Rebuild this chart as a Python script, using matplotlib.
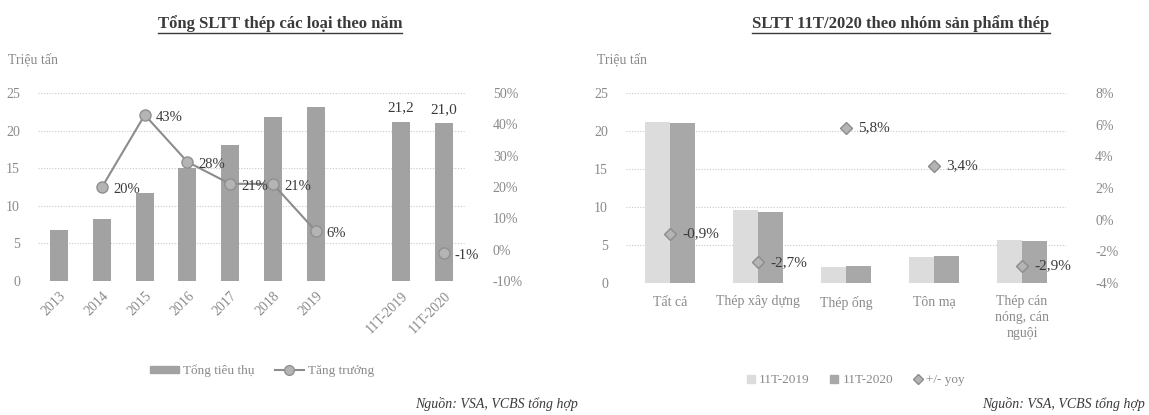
import matplotlib
matplotlib.use("Agg")
import matplotlib.pyplot as plt
import numpy as np
from matplotlib.lines import Line2D
from matplotlib.patches import Patch
from matplotlib.ticker import FuncFormatter, MultipleLocator

plt.rcParams["font.family"] = ["Liberation Serif", "DejaVu Serif"]

# --- left chart: total consumption by year ---
years = ["2013", "2014", "2015", "2016", "2017", "2018", "2019", "11T-2019", "11T-2020"]
year_pos = [0, 1, 2, 3, 4, 5, 6, 8, 9]  # gap before the 11-month pair
consumption = [6.8, 8.2, 11.7, 15.0, 18.1, 21.8, 23.1, 21.2, 21.0]
growth = [np.nan, 20, 43, 28, 21, 21, 6, np.nan, -1]
bar_labels = ["", "", "", "", "", "", "", "21,2", "21,0"]

# --- right chart: 11M/2020 by product group ---
groups = ["Tất cả", "Thép xây dựng", "Thép ống", "Tôn mạ", "Thép cán\nnóng, cán\nnguội"]
vol_2019 = [21.2, 9.6, 2.1, 3.45, 5.7]
vol_2020 = [21.0, 9.35, 2.22, 3.57, 5.53]
yoy = [-0.9, -2.7, 5.8, 3.4, -2.9]

TICK = "#8a8a8a"
DARK = "#3a3a3a"
GRID = "#c8c8c8"
W, H = 1149, 415


def vn(v, dec=1):
    return f"{v:.{dec}f}".replace(".", ",")


def clean(ax):
    for s in ax.spines.values():
        s.set_visible(False)
    ax.tick_params(length=0, colors=TICK, labelsize=10)


def underline(fig, txt):
    fig.canvas.draw()
    bb = txt.get_window_extent()
    y = bb.y0 - 1
    fig.add_artist(Line2D([bb.x0 / W, bb.x1 / W], [y / H, y / H],
                          transform=fig.transFigure, color=DARK, lw=1.0))


fig = plt.figure(figsize=(W / 100, H / 100), dpi=100)

# ---------------- left ----------------
ax = fig.add_axes([38 / W, 1 - 281 / H, 427 / W, 188 / H])
clean(ax)
ax.bar(year_pos, consumption, width=0.42, color="#a2a2a2", zorder=2)
ax.set_ylim(0, 25)
ax.set_xlim(-0.5, 9.5)
ax.yaxis.set_major_locator(MultipleLocator(5))
ax.grid(axis="y", color=GRID, ls=(0, (1, 1.5)), lw=0.8, zorder=0)
ax.set_xticks(year_pos)
ax.set_xticklabels(years, rotation=45, ha="right", rotation_mode="anchor")
ax.tick_params(axis="y", pad=13)
ax.tick_params(axis="x", pad=6)
for x, v, lab in zip(year_pos, consumption, bar_labels):
    if lab:
        ax.annotate(lab, (x, v), xytext=(0, 5), textcoords="offset points",
                    ha="center", va="bottom", fontsize=11, color=DARK)

ax2 = ax.twinx()
clean(ax2)
ax2.set_ylim(-10, 50)
ax2.yaxis.set_major_locator(MultipleLocator(10))
ax2.yaxis.set_major_formatter(FuncFormatter(lambda v, _: f"{v:.0f}%"))
ax2.tick_params(axis="y", pad=20)
ax2.plot(year_pos, growth, color="#8c8c8c", lw=1.5, marker="o", ms=8,
         mfc="#b4b4b4", mec="#909090", zorder=3)
for x, g in zip(year_pos, growth):
    if not np.isnan(g):
        ax2.annotate(f"{g:.0f}%", (x, g), xytext=(8, -2), textcoords="offset points",
                     ha="left", va="center", fontsize=10.5, color=DARK)

fig.text(8 / W, 1 - 60 / H, "Triệu tấn", fontsize=10, color=TICK, va="center")
t1 = fig.text(280 / W, 1 - 24 / H, "Tổng SLTT thép các loại theo năm", fontsize=12,
              fontweight="bold", color=DARK, ha="center", va="center")
fig.legend(handles=[Patch(color="#a2a2a2", label="Tổng tiêu thụ"),
                    Line2D([], [], color="#8c8c8c", lw=1.5, marker="o", ms=7,
                           mfc="#b4b4b4", mec="#909090", label="Tăng trưởng")],
           loc="center", bbox_to_anchor=(262 / W, 1 - 371 / H), ncol=2, frameon=False,
           fontsize=9.5, labelcolor=TICK, handlelength=2.2, handleheight=0.5,
           columnspacing=1.5, handletextpad=0.3)
fig.text(578 / W, 1 - 404 / H, "Nguồn: VSA, VCBS tổng hợp", fontsize=10, style="italic",
         color=DARK, ha="right", va="center")

# ---------------- right ----------------
bx = fig.add_axes([626 / W, 1 - 283 / H, 440 / W, 190 / H])
clean(bx)
pos = np.arange(len(groups))
bw = 0.285
bx.bar(pos - bw / 2, vol_2019, width=bw, color="#dcdcdc", zorder=2)
bx.bar(pos + bw / 2, vol_2020, width=bw, color="#a8a8a8", zorder=2)
bx.set_ylim(0, 25)
bx.set_xlim(-0.5, len(groups) - 0.5)
bx.yaxis.set_major_locator(MultipleLocator(5))
bx.grid(axis="y", color=GRID, ls=(0, (1, 1.5)), lw=0.8, zorder=0)
bx.set_xticks(pos)
bx.set_xticklabels(groups, linespacing=1.3, va="top")
bx.tick_params(axis="y", pad=13)
bx.tick_params(axis="x", pad=9)

bx2 = bx.twinx()
clean(bx2)
bx2.set_ylim(-4, 8)
bx2.yaxis.set_major_locator(MultipleLocator(2))
bx2.yaxis.set_major_formatter(FuncFormatter(lambda v, _: f"{v:.0f}%"))
bx2.tick_params(axis="y", pad=21)
bx2.plot(pos, yoy, ls="none", marker="D", ms=6.5, mfc="#b4b4b4", mec="#8c8c8c", zorder=3)
for x, v in zip(pos, yoy):
    bx2.annotate(f"{vn(v)}%", (x, v), xytext=(9, 0), textcoords="offset points",
                 ha="left", va="center", fontsize=11, color=DARK)

fig.text(597 / W, 1 - 60 / H, "Triệu tấn", fontsize=10, color=TICK, va="center")
t2 = fig.text(901 / W, 1 - 24 / H, "SLTT 11T/2020 theo nhóm sản phẩm thép", fontsize=12,
              fontweight="bold", color=DARK, ha="center", va="center")
fig.legend(handles=[Line2D([], [], ls="none", marker="s", ms=6, color="#dcdcdc", label="11T-2019"),
                    Line2D([], [], ls="none", marker="s", ms=6, color="#a8a8a8", label="11T-2020"),
                    Line2D([], [], ls="none", marker="D", ms=5.5, mfc="#b4b4b4", mec="#8c8c8c",
                           label="+/- yoy")],
           loc="center", bbox_to_anchor=(855 / W, 1 - 380 / H), ncol=3, frameon=False,
           fontsize=9.5, labelcolor=TICK, handlelength=0.8, handletextpad=0.2,
           columnspacing=1.5)
fig.text(1145 / W, 1 - 404 / H, "Nguồn: VSA, VCBS tổng hợp", fontsize=10, style="italic",
         color=DARK, ha="right", va="center")

underline(fig, t1)
underline(fig, t2)

fig.savefig("out.png", dpi=100, facecolor="white")
